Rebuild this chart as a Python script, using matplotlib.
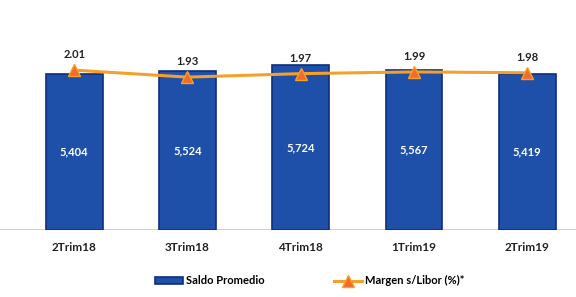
import matplotlib
matplotlib.use('Agg')
import matplotlib.pyplot as plt

# data
periodos = ['2Trim18', '3Trim18', '4Trim18', '1Trim19', '2Trim19']
saldo_promedio = [5404, 5524, 5724, 5567, 5419]
margen_libor = [2.01, 1.93, 1.97, 1.99, 1.98]

plt.rcParams['font.family'] = ['Lato', 'DejaVu Sans']

fig = plt.figure(figsize=(5.76, 2.97), dpi=100)
ax1 = fig.add_axes([0, 0.226, 1, 0.673])
ax2 = ax1.twinx()

x = list(range(len(periodos)))
ax1.bar(x, saldo_promedio, width=0.5, color='#1e50aa', edgecolor='#0d2f7e',
        linewidth=1.2, label='Saldo Promedio', zorder=2)
ax1.axhline(0, color='#c8c8c8', lw=1.2, zorder=1)
ax1.set_ylim(0, 6950)
ax1.set_xlim(-0.655, 4.43)

# bar values inside the bars
for xi, v in zip(x, saldo_promedio):
    ax1.text(xi, v / 2, f'{v:,}', ha='center', va='center', color='white',
             fontsize=8, fontweight='bold', zorder=3)

ax1.set_xticks(x)
ax1.set_xticklabels(periodos, fontsize=8.5, fontweight='bold', color='#222222')
ax1.tick_params(axis='x', length=0, pad=9)
ax1.set_yticks([])

ax2.plot(x, margen_libor, color='#f4a02a', lw=2.2, marker='^', markersize=8,
         markerfacecolor='#f26b2c', markeredgecolor='#f4a02a', markeredgewidth=1,
         label='Margen s/Libor (%)*', zorder=4)
ax2.set_ylim(0.18, 2.47)
ax2.set_yticks([])
for xi, v in zip(x, margen_libor):
    ax2.annotate(f'{v:.2f}', (xi, v), xytext=(0, 7), textcoords='offset points',
                 ha='center', va='bottom', fontsize=8, fontweight='bold', color='#222222')

for a in (ax1, ax2):
    for s in a.spines.values():
        s.set_visible(False)

h1, l1 = ax1.get_legend_handles_labels()
h2, l2 = ax2.get_legend_handles_labels()
fig.legend(h1 + h2, l1 + l2, loc='center', bbox_to_anchor=(0.538, 0.054), ncol=2,
           frameon=False, columnspacing=6.2, handlelength=2.5,
           handletextpad=0.3, prop={'weight': 'bold', 'size': 8})

fig.savefig('out.png', dpi=100, facecolor='white')
